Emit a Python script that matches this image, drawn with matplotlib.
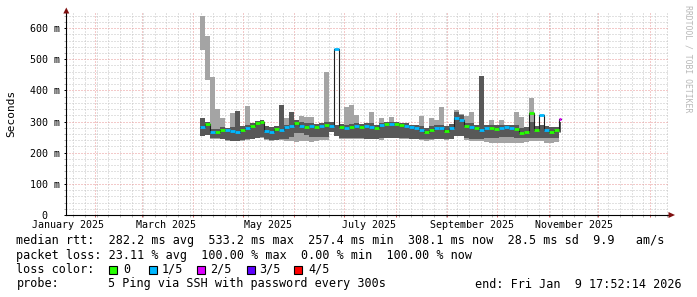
import numpy as np
import pandas as pd
import matplotlib
matplotlib.use("Agg")
import matplotlib.pyplot as plt
import matplotlib.dates as mdates
from matplotlib.ticker import MultipleLocator, FixedLocator
from matplotlib.patches import Polygon, Rectangle

# ---------------- data (milliseconds) ----------------
start_date = "2025-04-05"
step_days = 3
n_steps = 73

median = [284, 292, 266, 268, 274, 273, 270, 265, 273, 280,
          286, 295, 298, 270, 268, 276, 274, 283, 285, 296,
          285, 284, 285, 282, 286, 290, 285, 533, 282, 280,
          283, 286, 282, 285, 284, 278, 290, 293, 292, 292,
          288, 286, 282, 280, 274, 268, 272, 278, 280, 270,
          278, 312, 305, 285, 284, 280, 272, 278, 278, 276,
          280, 281, 280, 276, 262, 268, 329, 272, 320, 273,
          268, 272, 308]

loss = [1, 0, 1, 0, 0, 1, 1, 1, 0, 1,
        0, 0, 0, 1, 1, 0, 1, 1, 1, 0,
        1, 0, 1, 0, 1, 0, 1, 1, 0, 1,
        0, 1, 0, 1, 1, 0, 1, 0, 1, 0,
        0, 1, 1, 1, 1, 0, 0, 1, 1, 0,
        1, 1, 1, 0, 1, 0, 1, 1, 0, 0,
        1, 1, 1, 0, 0, 0, 0, 0, 1, 1,
        0, 0, 2]

core_lo = [255, 258, 247, 246, 245, 240, 238, 238, 240, 243,
           245, 248, 250, 243, 240, 242, 243, 245, 250, 262,
           262, 258, 250, 250, 250, 250, 268, 255, 247, 246,
           246, 246, 246, 245, 245, 245, 246, 248, 248, 248,
           246, 246, 245, 245, 244, 244, 244, 245, 245, 244,
           245, 255, 255, 246, 245, 244, 245, 246, 248, 248,
           250, 250, 250, 248, 246, 246, 248, 248, 248, 246,
           246, 246, 265]

core_hi = [310, 300, 275, 275, 282, 280, 282, 335, 285, 290,
           295, 302, 305, 285, 282, 285, 352, 290, 330, 305,
           300, 295, 295, 292, 295, 300, 300, 290, 292, 290,
           292, 295, 292, 294, 294, 290, 296, 300, 300, 298,
           296, 294, 290, 290, 285, 280, 285, 290, 290, 285,
           292, 330, 320, 295, 294, 290, 447, 288, 290, 288,
           290, 290, 290, 288, 280, 282, 300, 285, 288, 285,
           282, 284, 300]

smoke_lo = [530, 433, 245, 244, 243, 238, 236, 236, 238, 241,
            243, 246, 248, 241, 238, 240, 241, 236, 236, 234,
            236, 236, 234, 238, 240, 240, 266, 253, 245, 244,
            244, 244, 244, 243, 243, 243, 240, 246, 246, 246,
            244, 244, 243, 243, 242, 238, 242, 243, 243, 242,
            243, 253, 253, 240, 238, 236, 236, 234, 232, 232,
            232, 230, 230, 230, 230, 234, 238, 236, 236, 230,
            232, 234, 262]

smoke_hi = [640, 574, 442, 340, 312, 280, 326, 335, 285, 350,
            295, 302, 305, 285, 282, 285, 352, 312, 330, 305,
            318, 315, 315, 292, 295, 458, 300, 290, 292, 347,
            352, 320, 292, 294, 330, 290, 312, 300, 314, 298,
            296, 294, 290, 290, 318, 280, 311, 304, 347, 285,
            292, 337, 325, 318, 330, 290, 447, 288, 305, 288,
            305, 290, 290, 330, 315, 282, 375, 285, 288, 285,
            282, 284, 300]

loss_labels = ["0", "1/5", "2/5", "3/5", "4/5"]
loss_colors = ["#26ff00", "#00b8ff", "#dd00ff", "#5e00ff", "#ff0000"]

y_ticks = [0, 100, 200, 300, 400, 500, 600]
y_tick_labels = ["0  ", "100 m", "200 m", "300 m", "400 m", "500 m", "600 m"]
month_labels = ["January 2025", "March 2025", "May 2025", "July 2025",
                "September 2025", "November 2025"]
month_label_dates = ["2025-01-16", "2025-03-16", "2025-05-16", "2025-07-16",
                     "2025-09-16", "2025-11-16"]

legend_line1 = "median rtt:  282.2 ms avg  533.2 ms max  257.4 ms min  308.1 ms now  28.5 ms sd  9.9   am/s"
legend_line2 = "packet loss: 23.11 % avg  100.00 % max  0.00 % min  100.00 % now"
legend_line3 = "loss color:"
probe_label = "probe:"
probe_text = "5 Ping via SSH with password every 300s"
end_text = "end: Fri Jan  9 17:52:14 2026"

# ---------------- figure ----------------
W, H = 697, 297
fig = plt.figure(figsize=(W / 100, H / 100), dpi=100, facecolor="white")
ax_l, ax_r, ax_b, ax_t = 66, 668, 215, 13.3
ax = fig.add_axes([ax_l / W, 1 - ax_b / H, (ax_r - ax_l) / W, (ax_b - ax_t) / H])
ax.set_facecolor("white")

MONO = "DejaVu Sans Mono"

dates = pd.date_range(start_date, periods=n_steps, freq=f"{step_days}D")
x = mdates.date2num(dates)
x_e = np.append(x, x[-1] + 1.5)
x_right = x_e[1:]


def ext(a):
    a = np.asarray(a, dtype=float)
    return np.append(a, a[-1])


ax.fill_between(x_e, ext(smoke_lo), ext(smoke_hi), step="post",
                color="#a4a4a4", lw=0, zorder=2)
ax.fill_between(x_e, ext(core_lo), ext(core_hi), step="post",
                color="#585858", lw=0, zorder=3)
ax.step(x_e, ext(median), where="post", color="#202020", lw=0.8, zorder=4)
loss_arr = np.asarray(loss)
med_arr = np.asarray(median, dtype=float)
for c, col in enumerate(loss_colors):
    sel = loss_arr == c
    if sel.any():
        ax.hlines(med_arr[sel], x[sel], x_right[sel], colors=col, lw=2.0,
                  zorder=5, capstyle="butt")

# limits
ax.set_xlim(mdates.date2num(pd.Timestamp("2025-01-14 13:00")),
            mdates.date2num(pd.Timestamp("2026-01-11 20:00")))
ax.set_ylim(0, 647.5)

# grid
ax.xaxis.set_major_locator(mdates.MonthLocator())
ax.xaxis.set_minor_locator(mdates.WeekdayLocator(byweekday=mdates.SU))
ax.yaxis.set_major_locator(FixedLocator(y_ticks))
ax.yaxis.set_minor_locator(MultipleLocator(20))
ax.set_xticklabels([])
ax.set_yticklabels(y_tick_labels)
ax.grid(which="minor", color="#c4c4c4", lw=0.72, linestyle=(0, (1, 2)), zorder=0)
ax.grid(which="major", color="#e89494", lw=0.72, linestyle=(0, (1, 2)), zorder=1)
ax.set_axisbelow(True)

ax.tick_params(axis="both", which="both", length=1.5, width=0.72, colors="#000000",
               labelsize=7.2, pad=2.6)
ax.tick_params(axis="x", which="major", color="#d06060")
ax.tick_params(axis="x", which="minor", color="#b0b0b0")
ax.tick_params(axis="y", which="minor", color="#b0b0b0")
for lab in ax.get_yticklabels():
    lab.set_family(MONO)

for sp in ("top", "right"):
    ax.spines[sp].set_visible(False)
for sp in ("left", "bottom"):
    ax.spines[sp].set_color("#000000")
    ax.spines[sp].set_linewidth(0.8)

# month labels
xt = ax.get_xaxis_transform()
for d, lab in zip(month_label_dates, month_labels):
    ax.text(mdates.date2num(pd.Timestamp(d)), -9.8 / (ax_b - ax_t), lab,
            transform=xt, ha="center", va="center", fontsize=7.2, family=MONO)


def fp(px, py):
    return (px / W, 1 - py / H)


# axis arrows
fig.add_artist(Polygon([fp(66.3, 7.5), fp(63.3, 13.5), fp(69.3, 13.5)],
                       closed=True, transform=fig.transFigure,
                       color="#7f1010", lw=0))
fig.add_artist(Polygon([fp(675, 215), fp(668.5, 212), fp(668.5, 218)],
                       closed=True, transform=fig.transFigure,
                       color="#7f1010", lw=0))

# y label
fig.text(11 / W, 1 - 113.5 / H, "Seconds", rotation=90, ha="center", va="center",
         fontsize=8, family=MONO)

# watermark
fig.text(688 / W, 1 - 59 / H, "RRDTOOL / TOBI OETIKER", rotation=270,
         ha="center", va="center", fontsize=5.9, family=MONO, color="#b8b8b8")

# legend
LFS = 8.5
fig.text(16.5 / W, 1 - 240.5 / H, legend_line1, ha="left", va="center",
         fontsize=LFS, family=MONO)
fig.text(16.5 / W, 1 - 255 / H, legend_line2, ha="left", va="center",
         fontsize=LFS, family=MONO)
fig.text(16.5 / W, 1 - 269.5 / H, legend_line3, ha="left", va="center",
         fontsize=LFS, family=MONO)
box_x = [108.5, 148.5, 196.5, 246.5, 294.0]
text_x = [123.0, 161.5, 210.0, 259.5, 308.0]
for bx, tx, col, lab in zip(box_x, text_x, loss_colors, loss_labels):
    fig.add_artist(Rectangle(fp(bx, 273.5), 8 / W, 8 / H, transform=fig.transFigure,
                             facecolor=col, edgecolor="#000000", lw=0.8))
    fig.text(tx / W, 1 - 269.5 / H, lab, ha="left", va="center",
             fontsize=LFS, family=MONO)
fig.text(16.5 / W, 1 - 284 / H, probe_label, ha="left", va="center",
         fontsize=LFS, family=MONO)
fig.text(108.5 / W, 1 - 284 / H, probe_text, ha="left", va="center",
         fontsize=LFS, family=MONO)
fig.text(682 / W, 1 - 284 / H, end_text, ha="right", va="center",
         fontsize=LFS, family=MONO)

fig.savefig("out.png", dpi=100, facecolor="white")
